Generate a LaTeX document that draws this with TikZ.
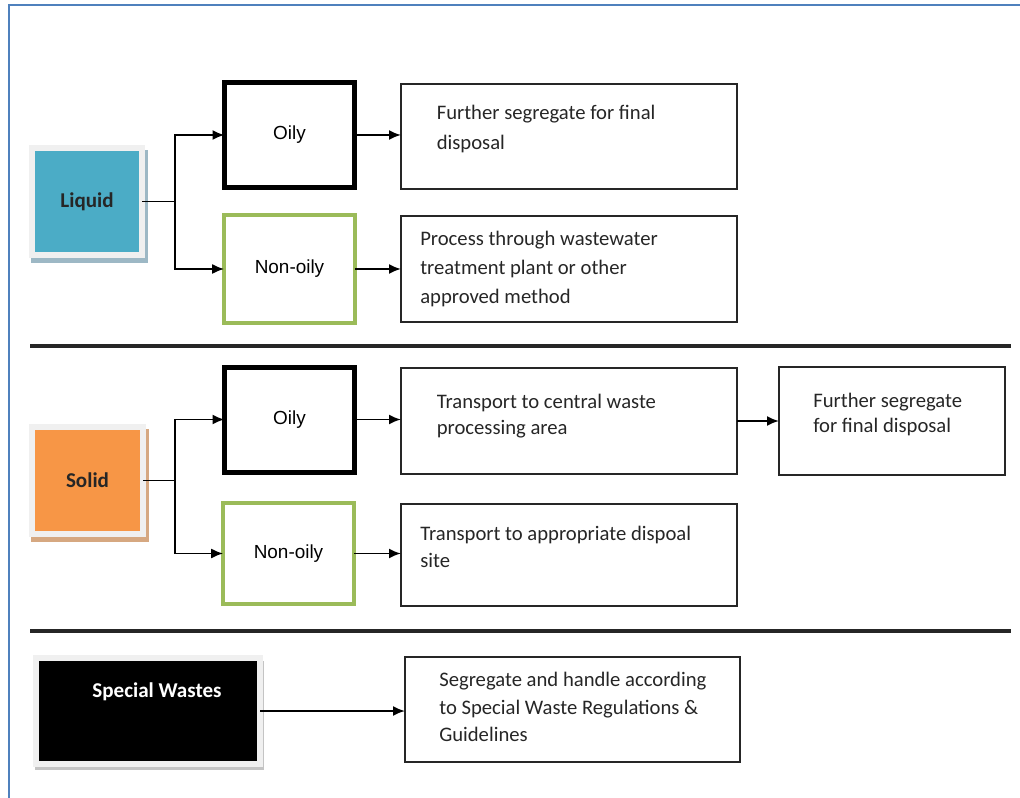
\documentclass[tikz,border=0pt]{standalone}
\usepackage{fontspec}
\setmainfont{Carlito}
\newfontfamily\labelsans{Liberation Sans}
\usetikzlibrary{arrows.meta,calc}

\definecolor{framegrey}{HTML}{F0F0F0}
\definecolor{liquidfill}{HTML}{4BACC6}
\definecolor{liquidshade}{HTML}{9DB8C5}
\definecolor{solidfill}{HTML}{F79646}
\definecolor{solidshade}{HTML}{D6A881}
\definecolor{specialshade}{HTML}{C4C4C4}
\definecolor{nonoilygreen}{HTML}{9BBB59}
\definecolor{pageblue}{HTML}{4F81BD}
\definecolor{inkgrey}{HTML}{262626}

\begin{document}
\begin{tikzpicture}[x=0.75pt,y=-0.75pt,
  category/.style={rectangle, draw=framegrey, line width=4.5pt, inner sep=0pt, outer sep=0pt,
    font=\fontsize{15.8}{18}\selectfont\bfseries},
  oilybox/.style={rectangle, draw=black, line width=3.75pt, inner sep=0pt, outer sep=0pt,
    minimum width=97.5pt, minimum height=78.75pt, font=\labelsans\fontsize{14.2}{17}\selectfont},
  nonoilybox/.style={rectangle, draw=nonoilygreen, line width=3pt, inner sep=0pt, outer sep=0pt,
    minimum width=98pt, font=\labelsans\fontsize{14.2}{17}\selectfont},
  stepbox/.style={rectangle, draw=inkgrey, line width=1.3pt, inner sep=0pt, outer sep=0pt},
  boxtext/.style={anchor=north west, inner sep=0pt, align=left, text=inkgrey},
  conn/.style={draw=black, line width=1.4pt},
  arr/.style={conn, -{Latex[length=9pt,width=7.5pt]}},
  divider/.style={draw=inkgrey, line width=2.6pt}]

\useasboundingbox (0,0) rectangle (1020,798);

% page frame
\draw[pageblue, line width=1.8pt] (1020,5) -- (9,5) -- (9,798);

% section dividers
\draw[divider] (30,346) -- (1011,346);
\draw[divider] (30,631) -- (1011,631);

% ---------- Liquid ----------
\fill[liquidshade] (31,150) rectangle (148,263);
\node[category, fill=liquidfill, minimum width=82.5pt, minimum height=80.25pt, text=black!85]
  (liquid) at (87,201.5) {Liquid};

\node[oilybox] (loily) at (289.5,135) {Oily};
\node[nonoilybox, minimum height=81pt] (lnon) at (289.5,269) {Non-oily};

\node[stepbox, minimum width=252pt, minimum height=78.75pt] (b1) at (569,136.5) {};
\node[stepbox, minimum width=252pt, minimum height=79.5pt] (b2) at (569,269) {};

\node[boxtext, font=\fontsize{15.5}{22.5}\selectfont] (t1) at (436.5,105)
  {Further segregate for final\\disposal};
\node[boxtext, font=\fontsize{15.5}{21.75}\selectfont] (t2) at (420,231)
  {Process through wastewater\\treatment plant or other\\approved method};

\coordinate (lj) at (175,201.5);
\draw[conn] (liquid.east) -- (lj);
\draw[arr] (lj) |- (loily.west);
\draw[arr] (lj) |- (lnon.west);
\draw[arr] (loily.east) -- (loily.east -| b1.west);
\draw[arr] (lnon.east) -- (lnon.east -| b2.west);

% ---------- Solid ----------
\fill[solidshade] (31,429) rectangle (149,542);
\node[category, fill=solidfill, minimum width=83.25pt, minimum height=80.25pt, text=black!85]
  (solid) at (87.5,480.5) {Solid};

\node[oilybox] (soily) at (289.5,419.5) {Oily};
\node[nonoilybox, minimum height=75.75pt] (snon) at (288.5,553.5) {Non-oily};

\node[stepbox, minimum width=252pt, minimum height=79.5pt] (b3) at (569,421) {};
\node[stepbox, minimum width=169.5pt, minimum height=81pt] (b4) at (892,421) {};
\node[stepbox, minimum width=252pt, minimum height=76.5pt] (b5) at (569,555) {};

\node[boxtext, font=\fontsize{15.5}{19.5}\selectfont] (t3) at (436.5,394)
  {Transport to central waste\\processing area};
\node[boxtext, font=\fontsize{15.5}{19}\selectfont] (t4) at (813,393)
  {Further segregate\\for final disposal};
\node[boxtext, font=\fontsize{15.5}{20.25}\selectfont] (t5) at (420,526)
  {Transport to appropriate dispoal\\site};

\coordinate (sj) at (175,480.5);
\draw[conn] (solid.east) -- (sj);
\draw[arr] (sj) |- (soily.west);
\draw[arr] (sj) |- (snon.west);
\draw[arr] (soily.east) -- (soily.east -| b3.west);
\draw[arr] (snon.east) -- (snon.east -| b5.west);
\draw[arr] (b3.east) -- (b3.east -| b4.west);

% ---------- Special wastes ----------
\fill[specialshade] (35,661) rectangle (264,770);
\node[category, fill=black, minimum width=168pt, minimum height=79.5pt]
  (special) at (148,711) {};
\node[inner sep=0pt, text=white, font=\fontsize{15.8}{18}\selectfont\bfseries]
  (specialtext) at (157,692) {Special Wastes};

\node[stepbox, minimum width=251.25pt, minimum height=78.75pt] (b6) at (572.5,709.5) {};
\node[boxtext, font=\fontsize{15.5}{20.6}\selectfont] (t6) at (439,672)
  {Segregate and handle according\\to Special Waste Regulations \&\\Guidelines};

\draw[arr] (special.east) -- (special.east -| b6.west);

\end{tikzpicture}
\end{document}
